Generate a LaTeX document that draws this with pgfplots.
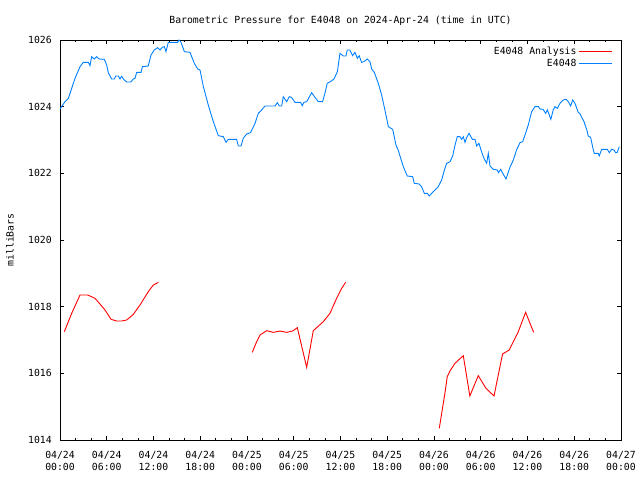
\documentclass[border=0pt]{standalone}
\usepackage{fontspec}
\setmainfont{DejaVu Sans Mono}
\usepackage{pgfplots}
\pgfplotsset{compat=1.18}
\definecolor{gpblue}{RGB}{0,128,255}
\definecolor{gpred}{RGB}{255,0,0}
\begin{document}
\begin{tikzpicture}[font=\fontsize{9.8bp}{12bp}\selectfont]
\useasboundingbox (-60bp,-40bp) rectangle (580bp,440bp);
\begin{axis}[
  scale only axis,
  width=561bp, height=400bp,
  xmin=0, xmax=72, ymin=1014, ymax=1026,
  xtick={0,6,...,72},
  minor x tick num=2,
  ytick={1014,1016,...,1026},
  xticklabels={{04/24\\00:00},{04/24\\06:00},{04/24\\12:00},{04/24\\18:00},{04/25\\00:00},{04/25\\06:00},{04/25\\12:00},{04/25\\18:00},{04/26\\00:00},{04/26\\06:00},{04/26\\12:00},{04/26\\18:00},{04/27\\00:00}},
  /pgf/number format/fixed,
  /pgf/number format/1000 sep={},
  /pgf/number format/assume math mode=true,
  yticklabel style={anchor=east, inner sep=0pt, xshift=-8bp},
  xticklabel style={align=center, anchor=north, inner sep=0pt, yshift=-11bp},
  tick align=inside,
  major tick length=4bp, minor tick length=2.5bp,
  axis line style={line width=0.8bp},
  every tick/.style={black, line width=0.8bp},
  title={Barometric Pressure for E4048 on 2024-Apr-24 (time in UTC)},
  every axis title/.style={at={(axis description cs:0.5,1)}, anchor=center, yshift=19bp, inner sep=0pt},
  ylabel={milliBars},
  every axis y label/.style={at={(axis description cs:0,0.5)}, xshift=-50bp, rotate=90, anchor=center, inner sep=0pt},
  unbounded coords=jump,
  legend plot pos=right,
  legend cell align=right,
  legend style={draw=white, at={(rel axis cs:0.986,0.99)}, anchor=north east, row sep=-1bp, inner sep=1bp},
]
\addplot[gpred, line width=0.9bp, legend image code/.code={\path (0bp,0bp) -- (4bp,0bp); \fill[fill=gpred, draw=none] (4bp,-0.6bp) rectangle (33bp,0.6bp);}] coordinates {
(0.56,1017.25) (1.5,1017.8) (2.57,1018.35) (3.55,1018.35) (4.49,1018.25) (5.13,1018.08) (5.78,1017.9) (6.55,1017.62) (7.27,1017.57) (7.91,1017.57) (8.56,1017.6) (9.41,1017.77) (10.27,1018.05) (11.33,1018.45) (11.98,1018.65) (12.62,1018.73)
(18,nan)
(24.68,1016.63) (25.15,1016.9) (25.67,1017.15) (26.53,1017.28) (27.38,1017.23) (28.23,1017.27) (29.09,1017.23) (29.86,1017.27) (30.46,1017.37) (31.66,1016.18) (32.51,1017.28) (32.94,1017.37) (33.79,1017.55) (34.65,1017.8) (35.5,1018.25) (36.15,1018.55) (36.66,1018.73)
(42,nan)
(48.68,1014.35) (49.4,1015.4) (49.7,1015.9) (50.05,1016.07) (50.69,1016.3) (51.76,1016.53) (52.6,1015.32) (53.68,1015.93) (54.67,1015.55) (55.7,1015.32) (56.8,1016.58) (57.66,1016.7) (58.18,1016.95) (58.82,1017.25) (59.76,1017.83) (60.79,1017.23)
};
\addlegendentry{E4048 Analysis}
\addplot[gpblue, line width=0.9bp, legend image code/.code={\path (0bp,0bp) -- (4bp,0bp); \fill[fill=gpblue, draw=none] (4bp,-0.6bp) rectangle (33bp,0.6bp);}] coordinates {
(0,1023.93) (0.64,1024.15) (1.07,1024.25) (1.5,1024.55) (1.93,1024.85) (2.57,1025.2) (2.99,1025.33) (3.64,1025.33) (3.85,1025.23) (4.06,1025.5) (4.4,1025.43) (4.7,1025.5) (5.0,1025.43) (5.69,1025.42) (5.99,1025.25) (6.2,1025.02) (6.63,1024.83) (6.97,1024.83) (7.15,1024.92) (7.49,1024.92) (7.7,1024.83) (7.91,1024.91) (8.21,1024.81) (8.56,1024.74) (9.1,1024.74) (9.41,1024.83) (9.63,1024.85) (9.84,1025.03) (10.4,1025.03) (10.57,1025.2) (11.33,1025.22) (11.68,1025.55) (12.1,1025.7) (12.53,1025.77) (12.83,1025.7) (13.13,1025.78) (13.39,1025.8) (13.6,1025.65) (13.9,1025.93) (15.1,1025.93) (15.27,1026.0) (15.5,1025.95) (15.96,1025.65) (16.68,1025.63) (17.24,1025.3) (17.67,1025.13) (17.97,1025.1) (18.4,1024.6) (19.03,1024.05) (19.68,1023.55) (20.32,1023.13) (20.96,1023.1) (21.3,1022.93) (21.6,1023.02) (22.67,1023.02) (22.89,1022.82) (23.23,1022.82) (23.52,1023.05) (23.96,1023.18) (24.45,1023.22) (24.73,1023.35) (25.03,1023.5) (25.45,1023.8) (25.88,1023.9) (26.3,1024.02) (27.6,1024.02) (27.9,1024.12) (28.15,1024.02) (28.45,1024.02) (28.66,1024.3) (29.09,1024.15) (29.43,1024.3) (29.7,1024.28) (30.16,1024.13) (30.88,1024.13) (31.1,1024.03) (31.3,1024.13) (31.66,1024.15) (32.3,1024.42) (32.6,1024.32) (33.15,1024.15) (33.7,1024.15) (34.0,1024.4) (34.3,1024.7) (34.7,1024.75) (35.16,1024.83) (35.6,1025.05) (35.93,1025.6) (36.36,1025.52) (36.7,1025.52) (36.87,1025.7) (37.2,1025.7) (37.56,1025.53) (37.86,1025.63) (38.16,1025.45) (38.4,1025.53) (38.7,1025.33) (39.0,1025.35) (39.44,1025.43) (39.78,1025.35) (40.0,1025.13) (40.34,1025.03) (40.85,1024.7) (41.28,1024.35) (41.7,1023.9) (42.14,1023.4) (42.7,1023.32) (43.12,1022.85) (43.4,1022.7) (44.06,1022.2) (44.57,1021.92) (45.26,1021.9) (45.47,1021.7) (46.1,1021.68) (46.4,1021.6) (46.76,1021.4) (47.14,1021.4) (47.4,1021.32) (47.9,1021.45) (48.55,1021.6) (48.98,1021.8) (49.4,1022.15) (49.63,1022.3) (50.05,1022.35) (50.4,1022.52) (50.7,1022.85) (50.99,1023.1) (51.33,1023.1) (51.55,1023.02) (51.76,1023.1) (51.98,1022.93) (52.2,1023.08) (52.5,1023.2) (52.92,1023.02) (53.26,1023.02) (53.48,1022.82) (53.77,1022.9) (54.1,1022.65) (54.41,1022.45) (54.76,1022.3) (54.97,1022.6) (55.19,1022.22) (55.6,1022.12) (56.14,1022.1) (56.27,1022.02) (56.56,1022.12) (56.9,1021.97) (57.24,1021.83) (57.75,1022.18) (58.18,1022.4) (58.6,1022.7) (59.03,1022.92) (59.38,1022.95) (59.68,1023.15) (60.1,1023.45) (60.53,1023.85) (60.96,1024.0) (61.4,1024.0) (61.6,1023.93) (62.0,1023.92) (62.33,1023.8) (62.55,1023.9) (62.8,1023.75) (63.0,1023.62) (63.3,1023.9) (63.53,1024.0) (63.83,1023.95) (64.17,1024.1) (64.6,1024.2) (64.94,1024.22) (65.24,1024.15) (65.54,1024.02) (65.8,1024.2) (66.1,1024.1) (66.52,1023.82) (66.7,1023.8) (67.25,1023.55) (67.59,1023.32) (67.8,1023.12) (68.1,1023.08) (68.45,1022.7) (68.57,1022.6) (69.08,1022.6) (69.2,1022.52) (69.52,1022.72) (70.24,1022.72) (70.5,1022.62) (70.8,1022.72) (71.1,1022.7) (71.3,1022.62) (71.5,1022.62) (71.78,1022.8)
};
\addlegendentry{E4048}
\end{axis}
\end{tikzpicture}
\end{document}
